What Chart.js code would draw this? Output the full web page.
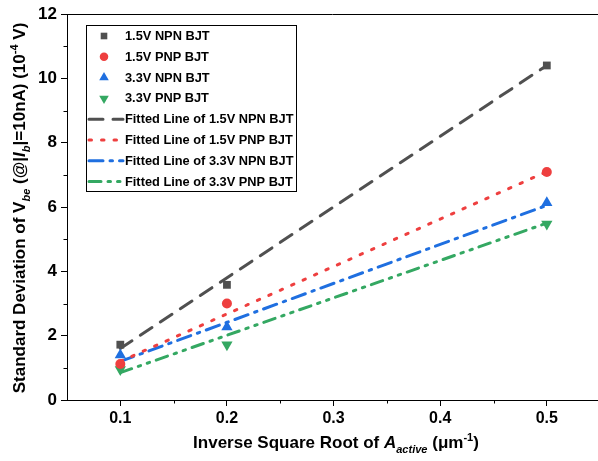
<!DOCTYPE html>
<html><head><meta charset="utf-8">
<script src="https://cdn.jsdelivr.net/npm/chart.js@4/dist/chart.umd.min.js"></script>
<style>html,body{margin:0;padding:0;background:#fff}#wrap{width:598px;height:461px}</style>
</head><body><div id="wrap"><canvas id="c" width="598" height="461"></canvas></div>
<script>
const xValues = [0.1, 0.2, 0.5];
const npn15 = [1.72, 3.58, 10.40];
const pnp15 = [1.12, 3.00, 7.09];
const npn33 = [1.40, 2.27, 6.13];
const pnp33 = [0.95, 1.72, 5.47];
const fitX = [0.1, 0.5];
const fitNpn15 = [1.60, 10.40];
const fitPnp15 = [1.20, 7.10];
const fitNpn33 = [1.20, 6.05];
const fitPnp33 = [0.85, 5.50];
const xTicks = [0.1, 0.2, 0.3, 0.4, 0.5];
const yTicks = [0, 2, 4, 6, 8, 10, 12];
const labels = ['1.5V NPN BJT','1.5V PNP BJT','3.3V NPN BJT','3.3V PNP BJT',
  'Fitted Line of 1.5V NPN BJT','Fitted Line of 1.5V PNP BJT','Fitted Line of 3.3V NPN BJT','Fitted Line of 3.3V PNP BJT'];

const C = {gray:'#505050', red:'#ee3f3f', blue:'#1f6fe0', green:'#34a862'};
const pts = (ys, xs) => ys.map((y,i)=>({x:xs[i], y}));
const F = '"Liberation Sans", Arial, sans-serif';

const datasets = [
  {label:labels[0], data:pts(npn15,xValues), pointStyle:'rect', pointRadius:5.5, backgroundColor:C.gray, borderColor:C.gray, borderWidth:0, showLine:false},
  {label:labels[1], data:pts(pnp15,xValues), pointStyle:'circle', pointRadius:5, backgroundColor:C.red, borderColor:C.red, borderWidth:0, showLine:false},
  {label:labels[2], data:pts(npn33,xValues), pointStyle:'triangle', pointRadius:6.5, backgroundColor:C.blue, borderColor:C.blue, borderWidth:0, showLine:false},
  {label:labels[3], data:pts(pnp33,xValues), pointStyle:'triangle', rotation:180, pointRadius:6.5, backgroundColor:C.green, borderColor:C.green, borderWidth:0, showLine:false},
  {label:labels[4], data:pts(fitNpn15,fitX), showLine:true, pointRadius:0, borderColor:C.gray, borderWidth:3, borderDash:[14,10], borderCapStyle:'round'},
  {label:labels[5], data:pts(fitPnp15,fitX), showLine:true, pointRadius:0, borderColor:C.red, borderWidth:3, borderDash:[2.5,10], borderCapStyle:'round'},
  {label:labels[6], data:pts(fitNpn33,fitX), showLine:true, pointRadius:0, borderColor:C.blue, borderWidth:3, borderDash:[14,7,2.5,7], borderCapStyle:'round'},
  {label:labels[7], data:pts(fitPnp33,fitX), showLine:true, pointRadius:0, borderColor:C.green, borderWidth:3, borderDash:[12,7,2.5,7,2.5,7], borderCapStyle:'round'}
];

function drawRich(ctx, parts, size) {
  let w = 0;
  parts.forEach(p => {
    const s = p.sub||p.sup ? size*0.65 : size;
    ctx.font = (p.it?'italic ':'') + 'bold ' + s + 'px ' + F;
    p._s = s; p._w = ctx.measureText(p.t).width; w += p._w;
  });
  let x = -w/2;
  parts.forEach(p => {
    ctx.font = (p.it?'italic ':'') + 'bold ' + p._s + 'px ' + F;
    const dy = p.sub ? size*0.3 : (p.sup ? -size*0.4 : 0);
    ctx.fillText(p.t, x, dy);
    x += p._w;
  });
}

const extras = {
  id:'extras',
  afterDraw(chart) {
    const ctx = chart.ctx, a = chart.chartArea, xs = chart.scales.x, ys = chart.scales.y;
    ctx.save();
    ctx.strokeStyle = '#000'; ctx.lineWidth = 1;
    ctx.beginPath(); ctx.moveTo(a.left, a.top+0.5); ctx.lineTo(a.right, a.top+0.5); ctx.stroke();
    [0.15,0.25,0.35,0.45].forEach(v => {
      const px = Math.round(xs.getPixelForValue(v))+0.5;
      ctx.beginPath(); ctx.moveTo(px, a.bottom); ctx.lineTo(px, a.bottom+3.5); ctx.stroke();
    });
    [1,3,5,7,9,11].forEach(v => {
      const py = Math.round(ys.getPixelForValue(v))+0.5;
      ctx.beginPath(); ctx.moveTo(a.left, py); ctx.lineTo(a.left-3.5, py); ctx.stroke();
    });
    const lx = 86, ly = 25, lw = 210, lh = 166;
    ctx.fillStyle = '#fff'; ctx.fillRect(lx, ly, lw, lh);
    ctx.strokeRect(lx+0.5, ly+0.5, lw, lh);
    chart.data.datasets.forEach((ds, i) => {
      const y = 36 + i*20.8;
      if (!ds.showLine) {
        ctx.fillStyle = ds.backgroundColor; ctx.strokeStyle = ds.backgroundColor;
        Chart.helpers.drawPoint(ctx, {pointStyle:ds.pointStyle, rotation:ds.rotation||0, radius:ds.pointRadius*0.85, borderWidth:0}, 104, y);
      } else {
        ctx.save();
        ctx.strokeStyle = ds.borderColor; ctx.lineWidth = 3; ctx.lineCap = 'round';
        ctx.setLineDash(ds.borderDash);
        ctx.beginPath(); ctx.moveTo(89, y); ctx.lineTo(123, y); ctx.stroke();
        ctx.restore();
      }
      ctx.fillStyle = '#000'; ctx.font = 'bold 12.8px ' + F;
      ctx.textBaseline = 'middle'; ctx.textAlign = 'left';
      ctx.fillText(ds.label, 125, y+0.5);
    });
    ctx.fillStyle = '#000'; ctx.textBaseline = 'alphabetic'; ctx.textAlign = 'left';
    ctx.save();
    ctx.translate(336, 448);
    drawRich(ctx, [{t:'Inverse Square Root of '},{t:'A',it:true},{t:'active',it:true,sub:true},{t:' (\u03bcm'},{t:'-1',sup:true},{t:')'}], 17);
    ctx.restore();
    ctx.save();
    ctx.translate(25, 208); ctx.rotate(-Math.PI/2);
    drawRich(ctx, [{t:'Standard Deviation of V'},{t:'be',it:true,sub:true},{t:' (@|'},{t:'I',it:true},{t:'b',it:true,sub:true},{t:'|=10nA) (10'},{t:'-4',sup:true},{t:' V)'}], 17);
    ctx.restore();
    ctx.restore();
  }
};

new Chart(document.getElementById('c'), {
  type:'scatter',
  data:{datasets},
  options:{
    responsive:false, animation:false, devicePixelRatio:1,
    layout:{autoPadding:false, padding:{top:14, right:0, left:0, bottom:0}},
    plugins:{legend:{display:false}, tooltip:{enabled:false}},
    scales:{
      x:{type:'linear', min:0.05, max:0.548,
        afterBuildTicks(s){ s.ticks = xTicks.map(v=>({value:v})); },
        afterFit(s){ s.height = 61; s.paddingLeft = 0; s.paddingRight = 0; },
        grid:{drawOnChartArea:false, drawTicks:true, tickLength:6, color:'#000'},
        border:{display:true, color:'#000', width:1},
        ticks:{color:'#000', font:{family:F, size:16, weight:'bold'}, padding:3, maxRotation:0,
          callback:v=>v.toFixed(1)}
      },
      y:{type:'linear', min:0, max:12,
        afterBuildTicks(s){ s.ticks = yTicks.map(v=>({value:v})); },
        afterFit(s){ s.width = 67; s.paddingTop = 0; s.paddingBottom = 0; },
        grid:{drawOnChartArea:false, drawTicks:true, tickLength:6, color:'#000'},
        border:{display:true, color:'#000', width:1},
        ticks:{color:'#000', font:{family:F, size:17, weight:'bold'}, padding:4,
          callback:v=>String(v)}
      }
    }
  },
  plugins:[extras]
});
</script></body></html>
